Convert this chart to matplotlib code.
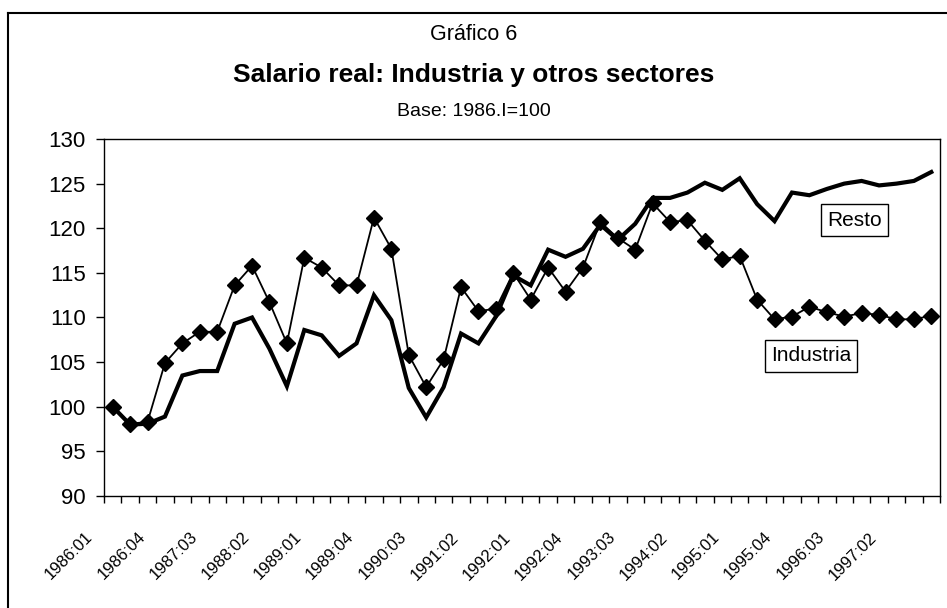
#!/usr/bin/env python3
import numpy as np
import matplotlib
matplotlib.use("Agg")
import matplotlib.pyplot as plt
from matplotlib.lines import Line2D
from matplotlib.transforms import ScaledTranslation

plt.rcParams['font.family'] = ['Liberation Sans', 'DejaVu Sans']

# Quarterly periods 1986:01 .. 1997:04
years = list(range(1986, 1998))
quarters = ["%d:%02d" % (y, q) for y in years for q in range(1, 5)]

industria = [100.0, 98.1, 98.3, 104.9, 107.1, 108.4, 108.4, 113.6, 115.8, 111.7,
             107.1, 116.7, 115.6, 113.6, 113.6, 121.2, 117.7, 105.8, 102.2, 105.3,
             113.4, 110.7, 111.0, 115.0, 112.0, 115.6, 112.9, 115.6, 120.7, 118.9,
             117.6, 122.8, 120.7, 120.9, 118.6, 116.5, 116.9, 112.0, 109.8, 110.1,
             111.2, 110.6, 110.1, 110.5, 110.3, 109.8, 109.8, 110.2]

resto = [100.0, 98.0, 98.1, 98.9, 103.5, 104.0, 104.0, 109.3, 110.0, 106.5,
         102.3, 108.6, 108.0, 105.7, 107.1, 112.5, 109.7, 102.1, 98.8, 102.2,
         108.2, 107.1, 110.1, 114.7, 113.6, 117.6, 116.8, 117.7, 120.4, 118.7,
         120.5, 123.4, 123.4, 124.0, 125.1, 124.3, 125.6, 122.7, 120.8, 124.0,
         123.7, 124.4, 125.0, 125.3, 124.8, 125.0, 125.3, 126.3]

yticks = list(range(90, 131, 5))

fig = plt.figure(figsize=(9.47, 6.08), dpi=100)
ax = fig.add_axes([104 / 947, 1 - 496 / 608, 836 / 947, 357 / 608])

x = np.arange(len(quarters)) + 0.5

# Thick line for the rest of the sectors, thin line with diamonds for industry
ax.plot(x, resto, color='black', linewidth=3.0, solid_joinstyle='miter')
ax.plot(x, industria, color='black', linewidth=1.3, marker='D',
        markersize=8, markerfacecolor='black')

ax.set_xlim(0, len(quarters))
ax.set_ylim(90, 130)
ax.set_yticks(yticks)
ax.tick_params(axis='y', direction='out', length=6, width=1, labelsize=16, pad=7)

# Tick marks between categories, labels every 3 quarters
ax.set_xticks(np.arange(len(quarters) + 1))
ax.set_xticklabels([])
ax.set_xticks(x[::3], minor=True)
ax.set_xticklabels(quarters[::3], minor=True, rotation=45, ha='right',
                   fontsize=12)
ax.tick_params(axis='x', which='major', direction='out', length=5, width=1)
ax.tick_params(axis='x', which='minor', length=0, pad=24)
shift = ScaledTranslation(-0.17, 0, fig.dpi_scale_trans)
for lab in ax.get_xticklabels(minor=True):
    lab.set_transform(lab.get_transform() + shift)

for s in ax.spines.values():
    s.set_linewidth(1.0)

ax.text(43.1, 120.9, "Resto", fontsize=15, ha='center', va='center',
        bbox=dict(boxstyle='square,pad=0.3', facecolor='white',
                  edgecolor='black', linewidth=1))
ax.text(40.6, 105.7, "Industria", fontsize=15, ha='center', va='center',
        bbox=dict(boxstyle='square,pad=0.3', facecolor='white',
                  edgecolor='black', linewidth=1))

fig.text(0.5, 1 - 35 / 608, "Gráfico 6", ha='center', va='center', fontsize=15.5)
fig.text(0.5, 1 - 75 / 608, "Salario real: Industria y otros sectores",
         ha='center', va='center', fontsize=19, fontweight='bold')
fig.text(0.5, 1 - 112 / 608, "Base: 1986.I=100", ha='center', va='center',
         fontsize=14)

# Outer frame (left and top edges)
fig.add_artist(Line2D([8 / 947, 8 / 947], [0, 1 - 13 / 608],
                      transform=fig.transFigure, color='black', linewidth=1.5))
fig.add_artist(Line2D([8 / 947, 1], [1 - 13 / 608, 1 - 13 / 608],
                      transform=fig.transFigure, color='black', linewidth=1.5))

fig.savefig("out.png", dpi=100)
